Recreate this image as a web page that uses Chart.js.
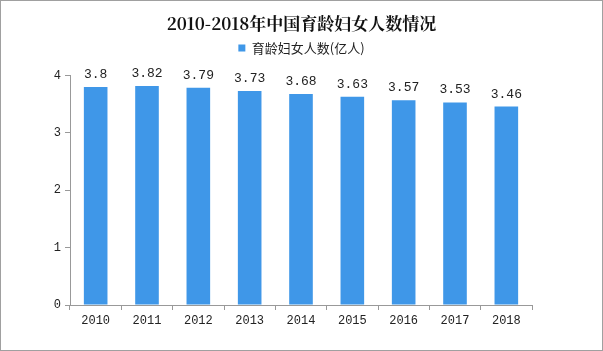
<!DOCTYPE html>
<html>
<head>
<meta charset="utf-8">
<script src="https://cdn.jsdelivr.net/npm/chart.js@4/dist/chart.umd.min.js"></script>
<style>
  html, body { margin: 0; padding: 0; background: #fff; }
  #wrap { position: relative; width: 601px; height: 349px; border: 1px solid #a0a0a0; }
</style>
</head>
<body>
<div id="wrap"><canvas id="chart" width="601" height="349"></canvas></div>
<script>
// dati del grafico
const years = ["2010", "2011", "2012", "2013", "2014", "2015", "2016", "2017", "2018"];
const women = [3.8, 3.82, 3.79, 3.73, 3.68, 3.63, 3.57, 3.53, 3.46];
const yTicks = [0, 1, 2, 3, 4];

const monoFont = "'Liberation Mono', 'Noto Sans CJK SC', monospace";

// etichette sopra le barre
const valueLabels = {
  id: 'valueLabels',
  afterDatasetsDraw(chart) {
    const ctx = chart.ctx;
    const meta = chart.getDatasetMeta(0);
    ctx.save();
    ctx.font = "13px " + monoFont;
    ctx.fillStyle = '#222';
    ctx.textAlign = 'center';
    ctx.textBaseline = 'bottom';
    meta.data.forEach((bar, i) => {
      ctx.fillText(String(women[i]), bar.x, bar.y - 6);
    });
    ctx.restore();
  }
};

new Chart(document.getElementById('chart'), {
  type: 'bar',
  data: {
    labels: years,
    datasets: [{
      label: '育龄妇女人数(亿人)',
      data: women,
      backgroundColor: '#3f97e8',
      barPercentage: 0.46,
      categoryPercentage: 1
    }]
  },
  options: {
    responsive: false,
    animation: false,
    layout: { padding: { left: 10, right: 10, top: 0, bottom: 0 } },
    plugins: {
      title: {
        display: true,
        text: '2010-2018年中国育龄妇女人数情况',
        color: '#111',
        font: { family: "'Noto Serif CJK SC', 'Noto Sans CJK SC', serif", size: 17, weight: 'bold' },
        padding: { top: 12, bottom: 2 }
      },
      legend: {
        display: true,
        labels: {
          boxWidth: 7,
          boxHeight: 7,
          color: '#222',
          font: { family: "'Noto Sans CJK SC', sans-serif", size: 13 },
          padding: 6
        }
      },
      // spazio vuoto sotto la legenda
      subtitle: {
        display: true,
        text: ' ',
        weight: 500,
        font: { size: 1 },
        padding: { top: 10, bottom: 0 }
      },
      tooltip: { enabled: false }
    },
    scales: {
      x: {
        grid: { drawOnChartArea: false, tickLength: 5, color: '#999', offset: true },
        border: { color: '#999' },
        ticks: { color: '#222', font: { family: monoFont, size: 12 }, padding: 4 },
        afterFit(s) { s.height = 45; }
      },
      y: {
        min: 0,
        max: 4,
        afterBuildTicks(s) { s.ticks = yTicks.map(v => ({ value: v })); },
        grid: { drawOnChartArea: false, tickLength: 5, color: '#999' },
        border: { color: '#999' },
        ticks: { color: '#222', font: { family: monoFont, size: 12 }, padding: 4 },
        afterFit(s) { s.width = 59; }
      },
      // asse vuoto a destra per lasciare lo spazio come nell'originale
      yRight: {
        position: 'right',
        min: 0,
        max: 4,
        grid: { display: false },
        border: { display: false },
        ticks: { display: false },
        afterFit(s) { s.width = 60; }
      }
    }
  },
  plugins: [valueLabels]
});
</script>
</body>
</html>
